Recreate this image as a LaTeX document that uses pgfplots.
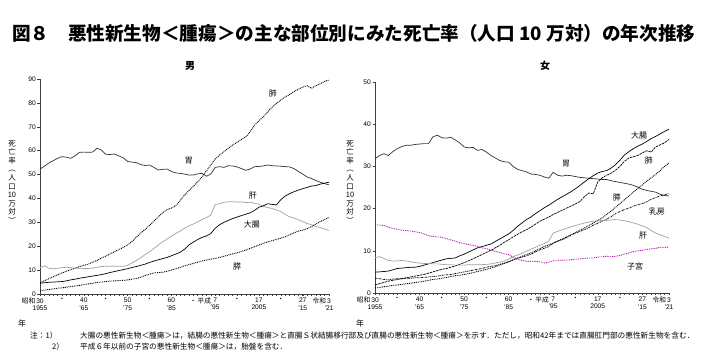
\documentclass[border=0pt]{standalone}
\usepackage{fontspec}
\setmainfont{Liberation Sans}
\newfontfamily\cjk{Noto Sans CJK JP}
\usepackage{pgfplots}
\pgfplotsset{compat=1.18}
\definecolor{uterus}{RGB}{176,30,176}
\definecolor{lgray}{RGB}{160,160,160}
\definecolor{dgray}{RGB}{50,50,50}
\pgfplotsset{
  myaxis/.style={
    scale only axis, xmin=1955, xmax=2021, ymin=0,
    axis lines*=left,
    axis line style={-, line width=0.5bp, black!75},
    tick align=outside,
    xtick={1955,1960,1965,1970,1975,1980,1985,1990,1995,2000,2005,2010,2015,2021},
    minor xtick={1956,...,2020},
    major tick length=2.5bp, minor tick length=2bp,
    tick style={line width=0.4bp, black!75},
    xticklabels={{\llap{\cjk 昭和\,}30\\1955},{\cjk ・},{40\\'65},{\cjk ・},{50\\'75},{\cjk ・},{60\\'85},{\cjk ・\rlap{\,平成}},{7\\'95},{\cjk ・},{17\\2005},{\cjk ・},{27\\'15},{\llap{\cjk 令和\,}3\\'21}},
    xticklabel style={align=center, font=\fontsize{6.7}{7.2}\selectfont, inner sep=1.5bp},
    yticklabel style={font=\fontsize{6.7}{7.2}\selectfont, inner sep=1.5bp},
    /pgf/number format/assume math mode=true,
    clip=false,
    every axis plot/.append style={line width=0.7bp, mark=none},
  },
}
\tikzset{lbl/.style={font=\cjk\fontsize{8}{8}\selectfont, inner sep=0pt},
  dots/.style={dash pattern=on 0.9bp off 0.9bp, line width=0.9bp}}
\begin{document}
\begin{tikzpicture}
\path[use as bounding box] (0,0) rectangle (702bp,364bp);
% title
\node[anchor=west, inner sep=0pt, font=\cjk\bfseries\fontsize{18.7}{18.7}\selectfont] at (12bp,331bp) {図８　悪性新生物＜腫瘍＞の主な部位別にみた死亡率（人口 10 万対）の年次推移};
\node[inner sep=0pt, font=\cjk\bfseries\fontsize{10}{10}\selectfont] at (190bp,298bp) {男};
\node[inner sep=0pt, font=\cjk\bfseries\fontsize{10}{10}\selectfont] at (545bp,298bp) {女};
% vertical y labels
\node[align=center, inner sep=0pt, font=\cjk\fontsize{7.5}{8.6}\selectfont] at (12bp,182bp) {死\\亡\\率\\︵\\人\\口\\10\\万\\対\\︶};
\node[align=center, inner sep=0pt, font=\cjk\fontsize{7.5}{8.6}\selectfont] at (350bp,182bp) {死\\亡\\率\\︵\\人\\口\\10\\万\\対\\︶};
\node[inner sep=0pt, font=\cjk\fontsize{8}{8}\selectfont] at (22bp,41bp) {年};
\node[inner sep=0pt, font=\cjk\fontsize{8}{8}\selectfont] at (360bp,41bp) {年};
% footnotes
\node[anchor=west, inner sep=0pt, font=\cjk\fontsize{7.7}{7.7}\selectfont] at (30bp,28bp) {注：1）};
\node[anchor=west, inner sep=0pt, font=\cjk\fontsize{7.7}{7.7}\selectfont] at (80bp,28bp) {大腸の悪性新生物＜腫瘍＞は，結腸の悪性新生物＜腫瘍＞と直腸Ｓ状結腸移行部及び直腸の悪性新生物＜腫瘍＞を示す．ただし，昭和42年までは直腸肛門部の悪性新生物を含む．};
\node[anchor=west, inner sep=0pt, font=\cjk\fontsize{7.7}{7.7}\selectfont] at (52bp,17bp) {2）};
\node[anchor=west, inner sep=0pt, font=\cjk\fontsize{7.7}{7.7}\selectfont] at (80bp,17bp) {平成６年以前の子宮の悪性新生物＜腫瘍＞は，胎盤を含む．};

%================ MALE
\begin{axis}[myaxis, at={(40bp,70bp)}, anchor=south west, width=289bp, height=215bp, ymax=90, ytick={0,10,...,90}]
% stomach
\addplot[dgray] coordinates {(1955,52.3)(1956,53.5)(1957,54.8)(1958,55.8)(1959,56.8)(1960,57.5)(1961,57.3)(1962,56.8)(1963,57.8)(1964,59.3)(1965,59.4)(1966,59.3)(1967,59.4)(1968,61)(1969,60.3)(1970,58.5)(1971,58.4)(1972,58.6)(1973,57.8)(1974,57)(1975,55.5)(1976,55.2)(1977,55)(1978,54.2)(1979,53.8)(1980,54)(1981,53)(1982,51.9)(1983,52.2)(1984,52.3)(1985,51.3)(1986,50.7)(1987,50.5)(1988,50.2)(1989,49.8)(1990,49.8)(1991,50.3)(1992,50.5)(1993,49.3)(1994,50.2)(1995,53)(1996,53.3)(1997,53)(1998,53.7)(1999,53.6)(2000,53.2)(2001,52.5)(2002,51.8)(2003,52.3)(2004,53.3)(2005,53.4)(2006,53.6)(2007,54)(2008,53.7)(2009,53.6)(2010,53.5)(2011,53.3)(2012,53.2)(2013,52.5)(2014,51.3)(2015,50.2)(2016,49)(2017,48.3)(2018,47.5)(2019,46.8)(2020,46.2)(2021,45.7)};
% lung
\addplot[black, dots] coordinates {(1955,4.6)(1956,5.5)(1957,6.4)(1958,7.2)(1959,8)(1960,8.8)(1961,9.5)(1962,10.2)(1963,10.8)(1964,11.5)(1965,12)(1966,12.5)(1967,13.3)(1968,14)(1969,15)(1970,15.8)(1971,16.8)(1972,17.7)(1973,18.6)(1974,19.5)(1975,20.5)(1976,22)(1977,23.8)(1978,25.5)(1979,27)(1980,28.7)(1981,30.5)(1982,32.3)(1983,34)(1984,35.3)(1985,36)(1986,37)(1987,39)(1988,41.5)(1989,43.3)(1990,45)(1991,47)(1992,49)(1993,51.5)(1994,54)(1995,56.5)(1996,58.2)(1997,59.5)(1998,61)(1999,62.4)(2000,63.5)(2001,64.7)(2002,65.8)(2003,67.9)(2004,70.7)(2005,72.5)(2006,74.2)(2007,76.3)(2008,78.2)(2009,79.8)(2010,81.2)(2011,82.5)(2012,83.5)(2013,84.7)(2014,85.7)(2015,86.6)(2016,87.2)(2017,86.1)(2018,87.2)(2019,88)(2020,89)(2021,89.6)};
% liver
\addplot[lgray] coordinates {(1955,11)(1956,11.8)(1957,10.8)(1958,10.5)(1959,10.8)(1960,11)(1961,11.2)(1962,11)(1963,10.8)(1964,10.8)(1965,10.7)(1966,10.7)(1967,10.8)(1968,11.2)(1969,11.5)(1970,11.6)(1971,11.6)(1972,11.6)(1973,11.6)(1974,11.6)(1975,12)(1976,13)(1977,14)(1978,15.2)(1979,16.5)(1980,17.7)(1981,19)(1982,20.5)(1983,21.8)(1984,23)(1985,24.2)(1986,25.3)(1987,26.3)(1988,27.5)(1989,28.5)(1990,29.3)(1991,30.2)(1992,31.2)(1993,32)(1994,33)(1995,37.5)(1996,37.8)(1997,38.4)(1998,38.6)(1999,38.6)(2000,38.5)(2001,38.5)(2002,38.3)(2003,38.4)(2004,38)(2005,37.6)(2006,36.7)(2007,36.2)(2008,35.8)(2009,35.2)(2010,34.5)(2011,33.3)(2012,32.3)(2013,31.8)(2014,31.1)(2015,30.3)(2016,29.5)(2017,29)(2018,28.3)(2019,27.8)(2020,27.2)(2021,26.6)};
% colorectal
\addplot[black] coordinates {(1955,4.5)(1956,4.7)(1957,4.9)(1958,5)(1959,5.1)(1960,5.2)(1961,5.5)(1962,5.9)(1963,6.2)(1964,6.6)(1965,6.9)(1966,7.2)(1967,7.5)(1968,7.8)(1969,8.1)(1970,8.5)(1971,9)(1972,9.4)(1973,9.8)(1974,10.2)(1975,10.6)(1976,11.1)(1977,11.5)(1978,12)(1979,12.5)(1980,13.2)(1981,13.8)(1982,14.3)(1983,14.8)(1984,15.3)(1985,16)(1986,16.7)(1987,17.5)(1988,18.7)(1989,20.5)(1990,21.7)(1991,22.8)(1992,23.7)(1993,24.3)(1994,25.3)(1995,27.5)(1996,29)(1997,30)(1998,30.8)(1999,31.6)(2000,32.2)(2001,32.8)(2002,33.4)(2003,34)(2004,35)(2005,36.3)(2006,36.9)(2007,37.8)(2008,37.5)(2009,37.3)(2010,39.5)(2011,41)(2012,42)(2013,42.8)(2014,43.5)(2015,44.1)(2016,44.6)(2017,45.2)(2018,45.4)(2019,46)(2020,46.4)(2021,46.8)};
% pancreas
\addplot[black, dots] coordinates {(1955,1.3)(1956,1.6)(1957,1.9)(1958,2.1)(1959,2.4)(1960,2.6)(1961,2.8)(1962,3.1)(1963,3.4)(1964,3.6)(1965,3.9)(1966,4.2)(1967,4.5)(1968,4.8)(1969,5)(1970,5.2)(1971,5.4)(1972,5.5)(1973,5.6)(1974,5.7)(1975,5.9)(1976,6.2)(1977,6.5)(1978,7)(1979,7.7)(1980,8.3)(1981,8.8)(1982,9)(1983,9.1)(1984,9.5)(1985,10)(1986,10.6)(1987,11.1)(1988,11.8)(1989,12.3)(1990,12.8)(1991,13.3)(1992,13.8)(1993,14.2)(1994,14.6)(1995,14.9)(1996,15.3)(1997,15.8)(1998,16.3)(1999,16.8)(2000,17.2)(2001,17.8)(2002,18.4)(2003,19.1)(2004,19.8)(2005,20.5)(2006,21.2)(2007,21.8)(2008,22.3)(2009,22.9)(2010,23.4)(2011,24)(2012,24.8)(2013,25.6)(2014,26.3)(2015,26.7)(2016,27.3)(2017,28.2)(2018,29.3)(2019,30.3)(2020,31.2)(2021,32.1)};
\node[lbl] at (axis cs:2008.2,84.1) {肺};
\node[lbl] at (axis cs:1989.0,55.7) {胃};
\node[lbl] at (axis cs:2003.6,41.0) {肝};
\node[lbl] at (axis cs:2003.4,29.3) {大腸};
\node[lbl] at (axis cs:2000.0,11.7) {膵};
\end{axis}

%================ FEMALE
\begin{axis}[myaxis, at={(375bp,71bp)}, anchor=south west, width=294bp, height=211bp, ymax=50, ytick={0,10,...,50}]
% stomach
\addplot[dgray] coordinates {(1955,31.8)(1956,32.6)(1957,33)(1958,32.6)(1959,33.5)(1960,34.2)(1961,34.7)(1962,35)(1963,35)(1964,35.2)(1965,35.3)(1966,35.4)(1967,35.4)(1968,37)(1969,37.4)(1970,36.8)(1971,36.7)(1972,36.9)(1973,36.3)(1974,35.6)(1975,34.6)(1976,34.4)(1977,34.5)(1978,33.8)(1979,34)(1980,33.4)(1981,32.6)(1982,32)(1983,31.4)(1984,31.1)(1985,31)(1986,30)(1987,29.3)(1988,29)(1989,28.7)(1990,28.2)(1991,28.1)(1992,27.9)(1993,27.5)(1994,27.2)(1995,28.6)(1996,27.9)(1997,27.7)(1998,27.9)(1999,27.8)(2000,27.6)(2001,27.4)(2002,27.3)(2003,27.2)(2004,27.1)(2005,27)(2006,26.9)(2007,26.9)(2008,26.6)(2009,26.4)(2010,26.2)(2011,26)(2012,25.8)(2013,25.5)(2014,25.1)(2015,24.6)(2016,24.3)(2017,24.1)(2018,23.9)(2019,23.4)(2020,23.1)(2021,23)};
% colorectal
\addplot[black] coordinates {(1955,5)(1956,5)(1957,5.1)(1958,5.2)(1959,5.5)(1960,5.8)(1961,5.9)(1962,6)(1963,6.1)(1964,6.1)(1965,6.3)(1966,6.6)(1967,6.9)(1968,7.2)(1969,7.5)(1970,7.8)(1971,8.1)(1972,8.2)(1973,8.3)(1974,8.8)(1975,9.2)(1976,9.7)(1977,10.2)(1978,10.7)(1979,11)(1980,11.3)(1981,11.6)(1982,12.2)(1983,12.8)(1984,13.4)(1985,14)(1986,14.8)(1987,15.8)(1988,16.6)(1989,17.4)(1990,18)(1991,18.8)(1992,19.5)(1993,20.2)(1994,20.8)(1995,21.5)(1996,22.2)(1997,22.8)(1998,23.4)(1999,24)(2000,24.7)(2001,25.5)(2002,26.3)(2003,27.1)(2004,27.8)(2005,28.4)(2006,28.8)(2007,29)(2008,29.6)(2009,30.4)(2010,31.5)(2011,32.7)(2012,33.5)(2013,34.2)(2014,34.8)(2015,35.3)(2016,35.9)(2017,36.6)(2018,37.1)(2019,37.7)(2020,38.3)(2021,38.8)};
% lung
\addplot[black, dash pattern=on 2.5bp off 0.8bp] coordinates {(1955,1.9)(1956,2.2)(1957,2.5)(1958,2.8)(1959,3)(1960,3.2)(1961,3.4)(1962,3.6)(1963,3.8)(1964,4)(1965,4.2)(1966,4.4)(1967,4.7)(1968,5)(1969,5.3)(1970,5.6)(1971,5.8)(1972,6.1)(1973,6.4)(1974,6.8)(1975,7.2)(1976,7.6)(1977,8.1)(1978,8.6)(1979,9.1)(1980,9.6)(1981,10.1)(1982,10.7)(1983,11.3)(1984,12)(1985,12.6)(1986,13.3)(1987,13.9)(1988,14.5)(1989,15)(1990,15.6)(1991,16.3)(1992,17)(1993,17.5)(1994,18)(1995,18.6)(1996,19.1)(1997,19.6)(1998,20.1)(1999,20.6)(2000,21.1)(2001,21.7)(2002,22.8)(2003,23.7)(2004,23.5)(2005,26.3)(2006,27.3)(2007,27.9)(2008,28.4)(2009,29.1)(2010,30)(2011,31.2)(2012,32)(2013,32.3)(2014,32.6)(2015,33.2)(2016,33.7)(2017,33.4)(2018,34.6)(2019,35.1)(2020,35.6)(2021,36.4)};
% pancreas
\addplot[black, dots] coordinates {(1955,1.2)(1956,1.3)(1957,1.5)(1958,1.6)(1959,1.8)(1960,1.9)(1961,2)(1962,2.2)(1963,2.3)(1964,2.5)(1965,2.6)(1966,2.8)(1967,3)(1968,3.2)(1969,3.3)(1970,3.5)(1971,3.7)(1972,3.9)(1973,4.1)(1974,4.2)(1975,4.4)(1976,4.6)(1977,4.8)(1978,5.1)(1979,5.3)(1980,5.6)(1981,5.9)(1982,6.2)(1983,6.6)(1984,7)(1985,7.4)(1986,7.9)(1987,8.3)(1988,8.7)(1989,9.1)(1990,9.5)(1991,10)(1992,10.5)(1993,11)(1994,11.4)(1995,11.8)(1996,12.3)(1997,12.8)(1998,13.3)(1999,13.8)(2000,14.3)(2001,14.9)(2002,15.4)(2003,16)(2004,16.6)(2005,17.2)(2006,17.8)(2007,18.6)(2008,19.4)(2009,20.3)(2010,21.2)(2011,22.1)(2012,23)(2013,23.9)(2014,24.8)(2015,25.6)(2016,26.5)(2017,27.3)(2018,28.1)(2019,29)(2020,30)(2021,30.8)};
% breast
\addplot[black, dash pattern=on 2bp off 0.8bp on 0.6bp off 0.8bp] coordinates {(1955,3.5)(1956,3.4)(1957,3.2)(1958,3.1)(1959,3.3)(1960,3.4)(1961,3.4)(1962,3.5)(1963,3.5)(1964,3.6)(1965,3.6)(1966,3.7)(1967,3.8)(1968,3.9)(1969,4)(1970,4.2)(1971,4.3)(1972,4.4)(1973,4.6)(1974,4.8)(1975,5)(1976,5.2)(1977,5.4)(1978,5.6)(1979,5.8)(1980,6.1)(1981,6.3)(1982,6.5)(1983,6.8)(1984,7.1)(1985,7.4)(1986,7.8)(1987,8.2)(1988,8.5)(1989,8.8)(1990,9.2)(1991,9.7)(1992,10.2)(1993,10.6)(1994,11)(1995,11.8)(1996,12.3)(1997,12.6)(1998,13.1)(1999,13.7)(2000,14.2)(2001,14.6)(2002,15)(2003,15.5)(2004,16.1)(2005,16.5)(2006,17)(2007,17.5)(2008,18.1)(2009,18.8)(2010,19.3)(2011,19.8)(2012,20.1)(2013,20.6)(2014,20.9)(2015,21.2)(2016,21.6)(2017,22.2)(2018,22.6)(2019,23)(2020,23.3)(2021,23.6)};
% liver
\addplot[lgray] coordinates {(1955,8.4)(1956,8.6)(1957,8.2)(1958,7.7)(1959,7.6)(1960,7.6)(1961,7.7)(1962,7.6)(1963,7.4)(1964,7.2)(1965,7.1)(1966,7)(1967,7)(1968,6.9)(1969,6.9)(1970,6.8)(1971,6.7)(1972,6.7)(1973,6.6)(1974,6.6)(1975,6.6)(1976,6.7)(1977,6.7)(1978,6.7)(1979,6.7)(1980,6.8)(1981,6.9)(1982,7.1)(1983,7.3)(1984,7.6)(1985,8)(1986,8.6)(1987,9)(1988,9.4)(1989,9.9)(1990,10.4)(1991,10.8)(1992,11.3)(1993,11.7)(1994,12.3)(1995,14.2)(1996,14.6)(1997,15)(1998,15.3)(1999,15.7)(2000,16)(2001,16.3)(2002,16.6)(2003,16.8)(2004,17)(2005,17.1)(2006,17.2)(2007,17.2)(2008,17.3)(2009,17.4)(2010,17.3)(2011,17.1)(2012,16.9)(2013,16.6)(2014,16.3)(2015,15.9)(2016,15.5)(2017,14.8)(2018,14.2)(2019,13.8)(2020,13.4)(2021,13)};
% uterus
\addplot[uterus, dots] coordinates {(1955,16.2)(1956,16.1)(1957,16)(1958,15.6)(1959,15.3)(1960,15.1)(1961,14.9)(1962,14.8)(1963,14.7)(1964,14.5)(1965,14.3)(1966,14)(1967,13.6)(1968,13.4)(1969,13.3)(1970,13.2)(1971,12.9)(1972,12.6)(1973,12.3)(1974,11.9)(1975,11.7)(1976,11.5)(1977,11.3)(1978,11)(1979,10.7)(1980,10.5)(1981,10.2)(1982,9.9)(1983,9.6)(1984,9.3)(1985,9.1)(1986,8.5)(1987,8)(1988,7.7)(1989,7.5)(1990,7.5)(1991,7.5)(1992,7.4)(1993,7.1)(1994,7.3)(1995,7.6)(1996,7.7)(1997,7.8)(1998,7.8)(1999,7.9)(2000,8)(2001,8.1)(2002,8.2)(2003,8.3)(2004,8.3)(2005,8.5)(2006,8.6)(2007,8.7)(2008,8.6)(2009,8.7)(2010,8.9)(2011,9.2)(2012,9.5)(2013,9.8)(2014,10)(2015,10.1)(2016,10.3)(2017,10.5)(2018,10.6)(2019,10.8)(2020,10.8)(2021,10.9)};
\node[lbl] at (axis cs:2014.3,37.4) {大腸};
\node[lbl] at (axis cs:1997.9,30.6) {胃};
\node[lbl] at (axis cs:2016.5,31.3) {肺};
\node[lbl] at (axis cs:2009.3,22.7) {膵};
\node[lbl] at (axis cs:2018.3,19.2) {乳房};
\node[lbl] at (axis cs:2015.2,13.7) {肝};
\node[lbl] at (axis cs:2013.4,6.2) {子宮};
\end{axis}
\end{tikzpicture}
\end{document}
